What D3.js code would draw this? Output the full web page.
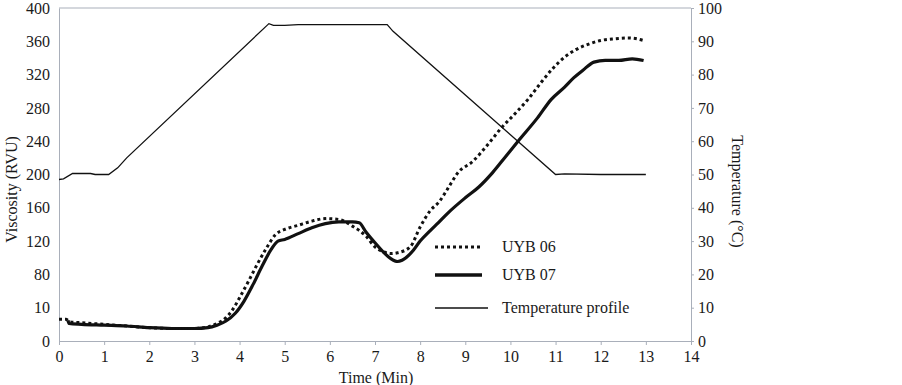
<!DOCTYPE html>
<html>
<head>
<meta charset="utf-8">
<script src="https://cdn.jsdelivr.net/npm/d3@7"></script>
<style>
  body { margin: 0; background: #fff; }
  text { font-family: "Liberation Serif", "DejaVu Serif", serif; fill: #1a1a1a; }
</style>
</head>
<body>
<svg id="chart"></svg>
<script>
// Data (time in min, viscosity in RVU, temperature in °C)
const uyb06Time = [0, 0.15, 0.25, 0.5, 1.0, 1.5, 2.0, 2.5, 3.0, 3.3, 3.5, 3.7, 3.85, 4.0, 4.2, 4.4, 4.6, 4.8, 5.0, 5.3, 5.6, 5.9, 6.2, 6.5, 6.8, 7.0, 7.2, 7.35, 7.5, 7.78, 8.0, 8.23, 8.42, 8.6, 8.85, 9.15, 9.5, 9.8, 10.1, 10.4, 10.7, 10.95, 11.2, 11.45, 11.75, 12.0, 12.3, 12.6, 12.8, 12.95];
const uyb06Visc = [26, 26, 23, 22, 20, 18, 16, 15, 15, 17, 21, 28, 38, 52, 72, 93, 112, 128, 134, 139, 144, 147, 146, 138, 126, 113, 107, 105, 106, 113, 137, 157, 167, 182, 203, 215, 236, 256, 273, 291, 312, 328, 341, 350, 357, 361, 363, 364, 363, 361];

const uyb07Time = [0.2, 0.22, 0.5, 1.0, 1.5, 2.0, 2.5, 3.0, 3.3, 3.5, 3.7, 3.9, 4.1, 4.3, 4.5, 4.7, 4.85, 5.0, 5.3, 5.6, 5.9, 6.2, 6.5, 6.65, 6.8, 7.0, 7.2, 7.35, 7.5, 7.6, 7.85, 8.0, 8.23, 8.4, 8.62, 9.0, 9.3, 9.6, 9.9, 10.2, 10.6, 10.9, 11.2, 11.4, 11.6, 11.85, 12.1, 12.4, 12.7, 12.95];
const uyb07Visc = [25, 21, 20, 19, 18, 16, 15, 15, 16, 19, 24, 33, 48, 68, 90, 110, 120, 122, 129, 136, 141, 143, 143, 142, 131, 118, 106, 99, 95.5, 97, 109, 120, 133, 142, 154, 172, 185, 202, 222, 242, 268, 290, 305, 316, 325, 335, 337, 337, 339, 337];

const tempTime = [0, 0.1, 0.3, 0.7, 0.8, 1.1, 1.3, 1.5, 4.65, 4.75, 5.0, 5.3, 7.27, 7.4, 11.0, 11.2, 12.0, 13.0];
const tempValue = [48.5, 48.7, 50.3, 50.3, 50, 50, 52, 55, 95.3, 94.8, 94.8, 95, 95, 93, 50, 50.2, 50, 50];

const timeTicks = d3.range(0, 15);
const viscTicks = [0, 40, 80, 120, 160, 200, 240, 280, 320, 360, 400];
const viscTickLabels = ["0", "10", "80", "120", "160", "200", "240", "280", "320", "360", "400"];
const tempTicks = d3.range(0, 101, 10);

const seriesNames = ["UYB 06", "UYB 07", "Temperature profile"];

// Layout
const width = 902, height = 385;
const margin = { top: 8, right: 211, bottom: 44, left: 59 };
const innerW = width - margin.left - margin.right;
const innerH = height - margin.top - margin.bottom;
const axisColor = "#a9afba";
const fontSize = "16px";

const svg = d3.select("#chart").attr("width", width).attr("height", height);
const g = svg.append("g").attr("transform", `translate(${margin.left},${margin.top})`);

// Scales
const x = d3.scaleLinear().domain([0, 14]).range([0, innerW]);
const yVisc = d3.scaleLinear().domain([0, 400]).range([innerH, 0]);
const yTemp = d3.scaleLinear().domain([0, 100]).range([innerH, 0]);

// Top frame line
g.append("line")
    .attr("x1", 0).attr("x2", innerW).attr("y1", 0).attr("y2", 0)
    .attr("stroke", axisColor);

// Axes
const xAxis = g.append("g")
    .attr("transform", `translate(0,${innerH})`)
    .call(d3.axisBottom(x).tickValues(timeTicks).tickSize(4).tickPadding(6));

const leftAxis = g.append("g")
    .call(d3.axisLeft(yVisc).tickValues(viscTicks).tickSize(0).tickPadding(9)
        .tickFormat((d, i) => viscTickLabels[i]));

const rightAxis = g.append("g")
    .attr("transform", `translate(${innerW},0)`)
    .call(d3.axisRight(yTemp).tickValues(tempTicks).tickSize(3).tickPadding(4));

[xAxis, leftAxis, rightAxis].forEach(a => {
    a.select(".domain").attr("stroke", axisColor);
    a.selectAll(".tick line").attr("stroke", axisColor);
    a.selectAll(".tick text")
        .style("font-family", "'Liberation Serif', serif")
        .style("font-size", fontSize)
        .attr("fill", "#1a1a1a");
});

// Axis titles
svg.append("text")
    .attr("transform", `translate(17,${margin.top + innerH / 2 + 15}) rotate(-90)`)
    .attr("text-anchor", "middle")
    .style("font-size", fontSize)
    .text("Viscosity (RVU)");

svg.append("text")
    .attr("transform", `translate(732,${margin.top + innerH / 2 + 17}) rotate(90)`)
    .attr("text-anchor", "middle")
    .style("font-size", fontSize)
    .text("Temperature (°C)");

svg.append("text")
    .attr("x", margin.left + innerW / 2 + 1)
    .attr("y", 383)
    .attr("text-anchor", "middle")
    .style("font-size", fontSize)
    .text("Time (Min)");

// Lines
const viscLine = d3.line().x(d => x(d[0])).y(d => yVisc(d[1])).curve(d3.curveMonotoneX);
const tempLine = d3.line().x(d => x(d[0])).y(d => yTemp(d[1]));

g.append("path")
    .datum(d3.zip(tempTime, tempValue))
    .attr("fill", "none")
    .attr("stroke", "#111")
    .attr("stroke-width", 1.3)
    .attr("d", tempLine);

g.append("path")
    .datum(d3.zip(uyb07Time, uyb07Visc))
    .attr("fill", "none")
    .attr("stroke", "#111")
    .attr("stroke-width", 3.2)
    .attr("d", viscLine);

g.append("path")
    .datum(d3.zip(uyb06Time, uyb06Visc))
    .attr("fill", "none")
    .attr("stroke", "#111")
    .attr("stroke-width", 3)
    .attr("stroke-dasharray", "3,3")
    .attr("d", viscLine);

// Legend
const legendStyles = [
    { width: 3, dash: "3,3", len: 47 },
    { width: 3.5, dash: null, len: 47 },
    { width: 1.3, dash: null, len: 53 }
];
const legendY = [247, 275, 308];

const legend = svg.append("g");
seriesNames.forEach((name, i) => {
    const s = legendStyles[i];
    legend.append("line")
        .attr("x1", 435).attr("x2", 435 + s.len)
        .attr("y1", legendY[i]).attr("y2", legendY[i])
        .attr("stroke", "#111")
        .attr("stroke-width", s.width)
        .attr("stroke-dasharray", s.dash);
    legend.append("text")
        .attr("x", 502)
        .attr("y", legendY[i] + 5)
        .style("font-size", fontSize)
        .text(name);
});
</script>
</body>
</html>
